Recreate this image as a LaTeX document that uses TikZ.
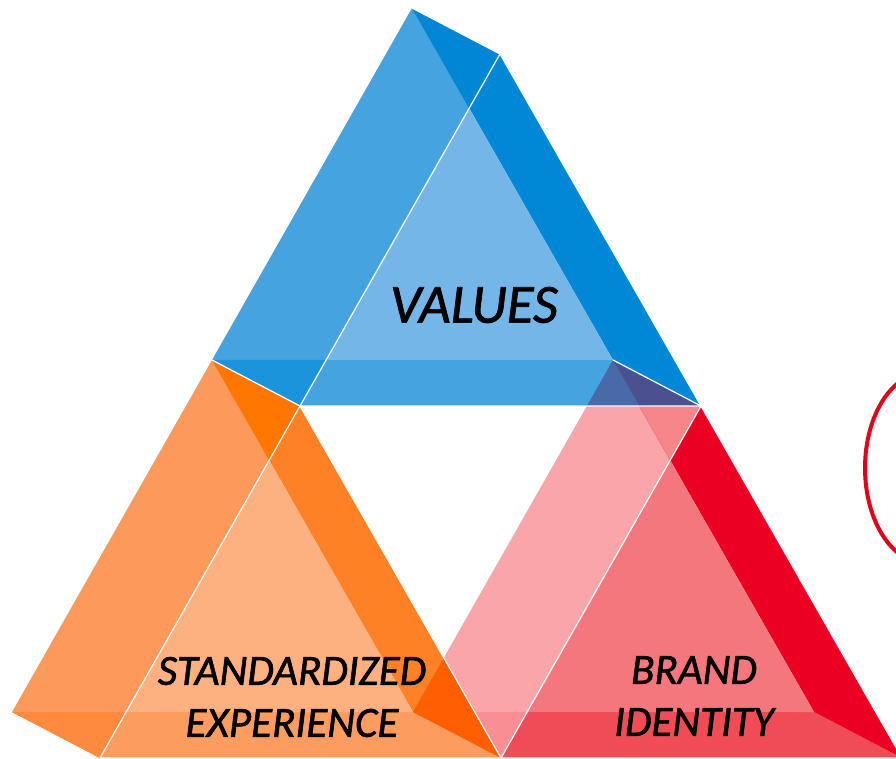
\documentclass[tikz,border=0pt]{standalone}
\usepackage{fontspec}
\newfontfamily\labelfont[RawFeature={embolden=1.3}]{Carlito}
\usetikzlibrary{calc}

\definecolor{values-left}{HTML}{45A3E0}
\definecolor{values-right}{HTML}{0088D6}
\definecolor{values-bottom}{HTML}{45A3E0}
\definecolor{values-top}{HTML}{0086D5}
\definecolor{values-corner}{HTML}{1C94DB}
\definecolor{values-inner}{HTML}{74B6E7}
\definecolor{standard-left}{HTML}{FD9A5B}
\definecolor{standard-right}{HTML}{FE8126}
\definecolor{standard-bottom}{HTML}{FD9C5F}
\definecolor{standard-top}{HTML}{FF7700}
\definecolor{standard-corner}{HTML}{FE8A40}
\definecolor{standard-inner}{HTML}{FDB080}
\definecolor{brand-left}{HTML}{F9A5AA}
\definecolor{brand-right}{HTML}{EB0023}
\definecolor{brand-bottom}{HTML}{F04C55}
\definecolor{brand-top}{HTML}{F7868B}
\definecolor{brand-corner}{HTML}{F98E95}
\definecolor{brand-inner}{HTML}{F5777E}
\definecolor{purple-light}{HTML}{4A69A9}
\definecolor{purple-dark}{HTML}{4B5190}
\definecolor{orange-deep}{HTML}{FF5F00}
\definecolor{ring-red}{HTML}{E2001A}

\tikzset{
    face edge/.style={
        draw=white, line width=1.2pt, line join=round
    },
    title text/.style={
        font=\labelfont\itshape\fontsize{#1}{52}\selectfont,
        align=center, inner sep=0pt, text=black
    },
    ring/.style={
        draw=ring-red, line width=4pt
    },
}

\begin{document}
\begin{tikzpicture}[x=1pt, y=-1pt]
    \useasboundingbox (0,0) rectangle (896,759);
    \clip (0,0) rectangle (896,759);
    % back triangle a,l,r and front triangle A,L,R of each prism
    \foreach \u/\px/\py in {brand/613/360, standard/212/360, values/412/8} {
      \path
        coordinate (\u-a) at (\px,\py)
        coordinate (\u-l) at ({\px-200},{\py+352})
        coordinate (\u-r) at ({\px+201},{\py+352})
        coordinate (\u-A) at ({\px+88},{\py+46})
        coordinate (\u-L) at ({\px-112},{\py+398})
        coordinate (\u-R) at ({\px+289},{\py+398});
      \path
        coordinate (\u-i) at ($(\u-a)!0.2846!(\u-r)$)
        coordinate (\u-j) at ($(\u-A)!0.869!(\u-L)$);
      \fill[fill=\u-left] (\u-a) -- (\u-A) -- (\u-L) -- (\u-l) -- cycle;
      \fill[fill=\u-bottom] (\u-l) -- (\u-r) -- (\u-R) -- (\u-L) -- cycle;
      \fill[fill=\u-right] (\u-a) -- (\u-A) -- (\u-R) -- (\u-r) -- cycle;
      \fill[fill=\u-top] (\u-a) -- (\u-A) -- (\u-i) -- cycle;
      \fill[fill=\u-corner] (\u-l) -- (\u-L) -- (\u-j) -- cycle;
      \fill[fill=\u-inner] (\u-i) -- (\u-j) -- (\u-r) -- cycle;
    }

    % where the prisms cross
    \fill[purple-light] (brand-a) -- ($(brand-a)!0.1307!(brand-l)$)
        -- ($(brand-a)!0.1307!(brand-r)$) -- cycle;
    \fill[purple-dark] (brand-a) -- ($(brand-a)!0.1307!(brand-r)$)
        -- (brand-A) -- cycle;
    \fill[orange-deep] ($(brand-a)!0.846!(brand-l)$) -- (brand-l)
        -- (brand-L) -- cycle;

    \foreach \u in {brand, standard, values}
      \draw[face edge] (\u-a) -- (\u-A) -- (\u-L) -- (\u-R) -- (\u-A);

    \node[title text=55] (values-text) at (474,305) {VALUES};
    \node[title text=43] (standard-text) at (292,697) {STANDARDIZED\\EXPERIENCE};
    \node[title text=43] (brand-text) at (694,696) {BRAND\\IDENTITY};

    \draw[ring] (925,468) ellipse [x radius=60pt, y radius=95pt];
\end{tikzpicture}
\end{document}
